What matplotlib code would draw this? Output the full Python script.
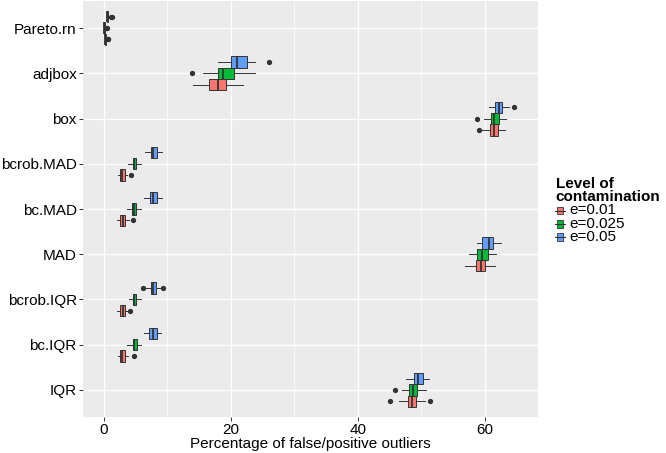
import matplotlib.pyplot as plt
from matplotlib.legend_handler import HandlerBase
from matplotlib.patches import Rectangle
from matplotlib.lines import Line2D

plt.rcParams['font.family'] = ['Liberation Sans', 'DejaVu Sans']

# bottom to top on the flipped axis
methods = ['IQR', 'bc.IQR', 'bcrob.IQR', 'MAD', 'bc.MAD', 'bcrob.MAD',
           'box', 'adjbox', 'Pareto.rn']
levels = ['e=0.01', 'e=0.025', 'e=0.05']
colors = ['#F8766D', '#00BA38', '#619CFF']

# [lower whisker, q1, median, q3, upper whisker] per method
summ_001 = [[46.5, 47.8, 48.5, 49.2, 50.6],
            [2.15, 2.5, 2.9, 3.35, 3.8],
            [2.1, 2.6, 2.95, 3.35, 3.7],
            [56.9, 58.6, 59.3, 60.0, 61.6],
            [2.1, 2.6, 2.95, 3.35, 4.0],
            [2.25, 2.6, 2.9, 3.35, 3.7],
            [59.6, 60.8, 61.4, 62.1, 63.1],
            [14.0, 16.6, 17.9, 19.2, 21.9],
            [0.1, 0.15, 0.2, 0.25, 0.3]]
out_001 = [[45.1, 51.4], [4.7], [4.1], [], [4.6], [4.2], [59.0], [], [0.6, 0.7]]

summ_0025 = [[46.9, 48.1, 48.6, 49.3, 50.7],
             [3.7, 4.5, 4.8, 5.25, 5.8],
             [3.9, 4.5, 4.8, 5.1, 5.9],
             [57.5, 58.7, 59.5, 60.5, 61.8],
             [3.7, 4.4, 4.8, 5.1, 5.8],
             [3.8, 4.5, 4.8, 5.1, 5.9],
             [59.8, 60.9, 61.4, 62.2, 63.3],
             [15.6, 17.9, 18.7, 20.5, 23.8],
             [0.0, 0.0, 0.05, 0.1, 0.15]]
out_0025 = [[45.9], [], [], [], [], [], [58.8], [13.8], [0.4, 0.5]]

summ_005 = [[47.6, 48.8, 49.5, 50.2, 51.2],
            [6.3, 7.1, 7.7, 8.3, 9.0],
            [6.6, 7.35, 7.8, 8.2, 8.9],
            [58.7, 59.6, 60.6, 61.3, 62.6],
            [6.35, 7.3, 7.7, 8.3, 9.2],
            [6.5, 7.35, 7.8, 8.3, 9.2],
            [60.7, 61.5, 62.2, 62.7, 63.8],
            [18.0, 20.0, 21.0, 22.5, 23.8],
            [0.4, 0.5, 0.55, 0.6, 0.7]]
out_005 = [[], [], [6.2, 9.3], [], [], [], [64.6], [26.0], [1.1, 1.3]]

summaries = [summ_001, summ_0025, summ_005]
outliers = [out_001, out_0025, out_005]
offsets = [-0.25, 0.0, 0.25]
dark = '#333333'
fs = 11


class BoxKey(HandlerBase):
    def create_artists(self, legend, orig, xd, yd, w, h, fontsize, trans):
        r = Rectangle((xd + 0.1 * w, yd + 0.1 * h), 0.8 * w, 0.8 * h,
                      facecolor=orig.get_facecolor(), edgecolor=dark, lw=0.6,
                      transform=trans)
        ln = Line2D([xd - 0.1 * w, xd + 1.1 * w], [yd + h / 2, yd + h / 2],
                    color=dark, lw=0.8, transform=trans)
        return [r, ln]


fig = plt.figure(figsize=(6.66, 4.53), dpi=100)
ax = fig.add_axes([83 / 666, 1 - 417 / 453, 455 / 666, 416 / 453])
ax.set_facecolor('#EBEBEB')

for summ, outs, col, off in zip(summaries, outliers, colors, offsets):
    stats = []
    for s, f in zip(summ, outs):
        stats.append(dict(whislo=s[0], q1=s[1], med=s[2], q3=s[3],
                          whishi=s[4], fliers=f))
    pos = [i + 1 + off for i in range(len(methods))]
    ax.bxp(stats, positions=pos, widths=0.25, orientation='horizontal',
           patch_artist=True, showcaps=False, manage_ticks=False,
           boxprops=dict(facecolor=col, edgecolor=dark, lw=0.7),
           medianprops=dict(color=dark, lw=1.3),
           whiskerprops=dict(color=dark, lw=0.7),
           flierprops=dict(marker='o', markersize=2.8, markerfacecolor=dark,
                           markeredgecolor=dark))

ax.set_xlim(-3.3, 68.35)
ax.set_ylim(0.4, 9.6)
ax.set_xticks([0, 20, 40, 60])
ax.set_xticks([10, 30, 50], minor=True)
ax.set_yticks(range(1, len(methods) + 1))
ax.set_yticklabels(methods)
ax.grid(which='major', color='white', lw=1.0)
ax.grid(which='minor', axis='x', color='white', lw=0.5)
ax.set_axisbelow(True)
for sp in ax.spines.values():
    sp.set_visible(False)
ax.tick_params(which='major', length=3, width=0.7, color=dark,
               labelsize=fs, labelcolor='black', pad=1.5)
ax.tick_params(which='minor', length=0)
ax.set_xlabel('Percentage of false/positive outliers', fontsize=fs,
              labelpad=0)

handles = [Rectangle((0, 0), 1, 1, facecolor=c) for c in colors]
leg = fig.legend(handles, levels, handler_map={Rectangle: BoxKey()},
                 loc='center left', bbox_to_anchor=(0.823, 0.535),
                 frameon=False, borderpad=0, fontsize=fs,
                 handlelength=0.55, handleheight=0.55, handletextpad=0.35,
                 labelspacing=-0.05, alignment='left',
                 title='Level of\ncontamination',
                 title_fontproperties={'weight': 'bold', 'size': fs})
leg.get_title().set_linespacing(0.9)

fig.savefig('out.png', dpi=100)
